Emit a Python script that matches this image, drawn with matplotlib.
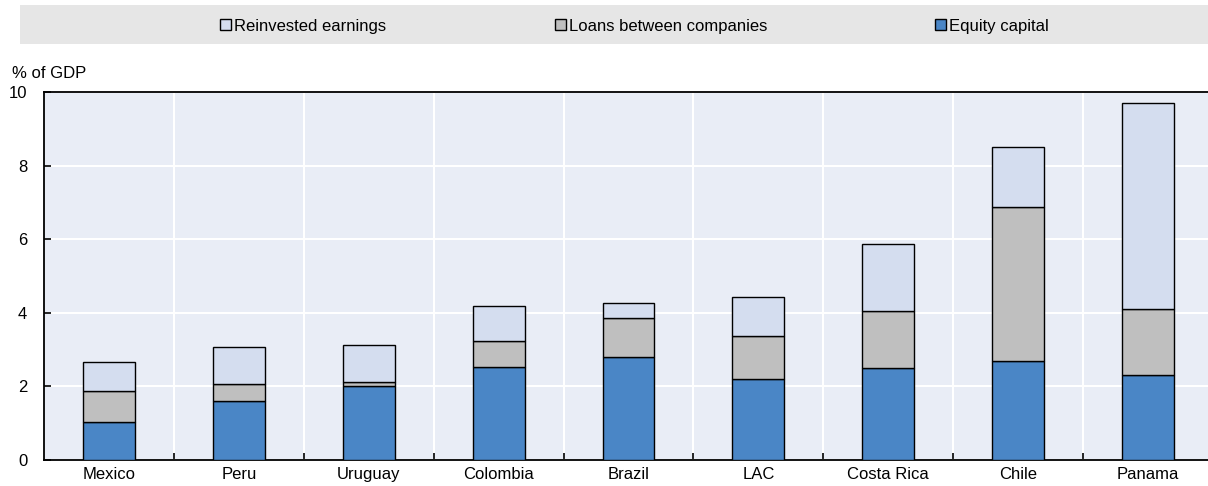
import matplotlib
matplotlib.use("Agg")
import matplotlib.pyplot as plt
import numpy as np
from matplotlib.patches import Rectangle, Patch
from matplotlib import font_manager

countries = ["Mexico", "Peru", "Uruguay", "Colombia", "Brazil", "LAC",
             "Costa Rica", "Chile", "Panama"]
equity_capital = [1.03, 1.60, 2.01, 2.53, 2.80, 2.20, 2.50, 2.69, 2.31]
intercompany_loans = [0.85, 0.47, 0.11, 0.70, 1.06, 1.17, 1.55, 4.19, 1.79]
reinvested_earnings = [0.78, 1.00, 1.00, 0.95, 0.41, 1.06, 1.82, 1.63, 5.60]
series_labels = ["Reinvested earnings", "Loans between companies", "Equity capital"]
y_ticks = [0, 2, 4, 6, 8, 10]

available = {f.name for f in font_manager.fontManager.ttflist}
family = "Liberation Sans Narrow" if "Liberation Sans Narrow" in available else "Liberation Sans"
narrow = family == "Liberation Sans Narrow"
FS = 13 if narrow else 12
plt.rcParams["font.family"] = [family, "DejaVu Sans"]
plt.rcParams["font.size"] = FS

C_EQ = "#4a86c6"
C_LOAN = "#bfbfbf"
C_RE = "#d4ddef"
BG = "#e9edf6"

W, H = 1208, 486
fig = plt.figure(figsize=(W / 100, H / 100), dpi=100)
ax = fig.add_axes([44 / W, 1 - 460 / H, (1213 - 44) / W, (460 - 92) / H])
ax.set_facecolor(BG)

x = np.arange(len(countries))
eq = np.array(equity_capital)
lo = np.array(intercompany_loans)
re = np.array(reinvested_earnings)
kw = dict(width=0.4, edgecolor="black", linewidth=1.0, zorder=3)
ax.bar(x, eq, color=C_EQ, **kw)
ax.bar(x, lo, bottom=eq, color=C_LOAN, **kw)
ax.bar(x, re, bottom=eq + lo, color=C_RE, **kw)

ax.set_xlim(-0.5, len(countries) - 0.5)
ax.set_ylim(0, 10)
ax.set_yticks(y_ticks)
ax.set_xticks(x)
ax.set_xticklabels(countries)
ax.set_xticks(np.arange(0.5, len(countries) - 1, 1.0), minor=True)

ax.grid(axis="y", which="major", color="white", linewidth=1.5, zorder=1)
ax.grid(axis="x", which="minor", color="white", linewidth=1.5, zorder=1)
ax.set_axisbelow(True)

ax.tick_params(axis="x", which="major", length=0, pad=5, labelsize=FS)
ax.tick_params(axis="x", which="minor", direction="in", length=5, width=1.2, color="black")
ax.tick_params(axis="y", direction="in", length=5, width=1.2, pad=12, labelsize=FS)

for side in ["left", "bottom", "top"]:
    ax.spines[side].set_color("black")
    ax.spines[side].set_linewidth(1.3)
ax.spines["right"].set_visible(False)

fig.text(12 / W, 1 - 73 / H, "% of GDP", ha="left", va="center", fontsize=FS)

# legend band
fig.patches.append(Rectangle((20 / W, 1 - 44 / H), (W - 20) / W, 39 / H,
                             transform=fig.transFigure, facecolor="#e6e6e6",
                             edgecolor="none", zorder=0))
handles = [Patch(facecolor=C_RE, edgecolor="black", linewidth=1.0),
           Patch(facecolor=C_LOAN, edgecolor="black", linewidth=1.0),
           Patch(facecolor=C_EQ, edgecolor="black", linewidth=1.0)]
starts = [220, 555, 935]
for h, lab, xs in zip(handles, series_labels, starts):
    fig.legend([h], [lab], loc="center left",
               bbox_to_anchor=(xs / W, 1 - 26 / H), frameon=False,
               handlelength=0.65, handleheight=0.65, handletextpad=0.2,
               borderpad=0, borderaxespad=0, fontsize=FS)

fig.savefig("out.png", dpi=100)
